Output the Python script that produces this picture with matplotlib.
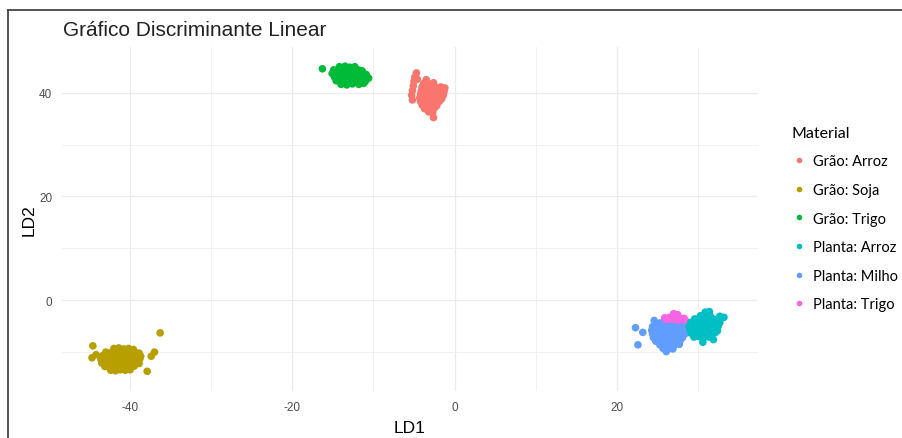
import matplotlib.pyplot as plt
from matplotlib.lines import Line2D
import numpy as np

plt.rcParams["axes.unicode_minus"] = False

# categories and colours (ggplot hue palette)
materials = ["Grão: Arroz", "Grão: Soja", "Grão: Trigo",
             "Planta: Arroz", "Planta: Milho", "Planta: Trigo"]
colors = ["#F8766D", "#B79F00", "#00BA38", "#00BFC4", "#619CFF", "#F564E3"]

# LD1, LD2 scores (approximate)
grao_arroz = [
    [-4.7, 43.8], [-4.6, 42.6], [-4.9, 43.0], [-5.0, 42.2], [-5.1, 41.3], [-5.2, 40.4],
    [-5.3, 39.5], [-5.2, 38.6], [-3.5, 42.5],
    [-3.8, 41.8], [-3.2, 41.7], [-2.6, 41.9],
    [-4.0, 41.1], [-3.5, 41.0], [-2.9, 41.2], [-2.3, 41.0], [-1.7, 41.1], [-1.2, 40.9],
    [-4.1, 40.4], [-3.6, 40.3], [-3.0, 40.5], [-2.4, 40.3], [-1.8, 40.5], [-1.3, 40.2],
    [-4.2, 39.7], [-3.7, 39.6], [-3.1, 39.8], [-2.5, 39.6], [-1.9, 39.7], [-1.4, 39.5],
    [-4.3, 39.0], [-3.8, 38.9], [-3.2, 39.1], [-2.6, 38.9], [-2.0, 39.0], [-1.6, 38.8],
    [-4.2, 38.3], [-3.6, 38.2], [-3.0, 38.4], [-2.4, 38.2], [-1.9, 38.3],
    [-4.0, 37.6], [-3.4, 37.5], [-2.8, 37.7], [-2.2, 37.5],
    [-3.7, 36.9], [-3.1, 36.8], [-2.5, 37.0],
    [-3.2, 36.3], [-2.7, 36.2], [-2.6, 35.2],
]
grao_soja = [
    [-42.0, -9.3], [-41.4, -9.2], [-40.8, -9.4], [-40.2, -9.3], [-39.6, -9.5],
    [-43.0, -10.0], [-42.4, -10.1], [-41.8, -9.9], [-41.2, -10.0], [-40.6, -10.1],
    [-40.0, -9.9], [-39.4, -10.0], [-38.9, -10.2],
    [-43.4, -10.7], [-42.8, -10.6], [-42.2, -10.8], [-41.6, -10.7], [-41.0, -10.6],
    [-40.4, -10.8], [-39.8, -10.7], [-39.2, -10.6], [-38.7, -10.8],
    [-43.6, -11.4], [-43.0, -11.5], [-42.4, -11.3], [-41.8, -11.4], [-41.2, -11.5],
    [-40.6, -11.3], [-40.0, -11.4], [-39.4, -11.5], [-38.8, -11.3],
    [-43.5, -12.1], [-42.9, -12.0], [-42.3, -12.2], [-41.7, -12.1], [-41.1, -12.0],
    [-40.5, -12.2], [-39.9, -12.1], [-39.3, -12.0], [-38.9, -12.2],
    [-43.1, -12.8], [-42.5, -12.9], [-41.9, -12.7], [-41.3, -12.8], [-40.7, -12.9],
    [-40.1, -12.8], [-39.5, -12.7],
    [-42.4, -13.5], [-41.8, -13.6], [-41.2, -13.4], [-40.6, -13.5], [-40.0, -13.4],
    [-44.6, -8.8], [-44.7, -11.1], [-44.2, -10.5], [-36.3, -6.3],
    [-37.0, -10.0], [-37.4, -10.8], [-37.9, -13.7],
]
grao_trigo = [
    [-16.3, 44.6],
    [-14.2, 45.0], [-13.5, 45.1], [-12.9, 44.9], [-12.3, 45.0],
    [-14.9, 44.4], [-14.3, 44.3], [-13.7, 44.5], [-13.1, 44.4], [-12.5, 44.3],
    [-11.9, 44.4], [-11.4, 44.2],
    [-15.1, 43.7], [-14.5, 43.6], [-13.9, 43.8], [-13.3, 43.7], [-12.7, 43.6],
    [-12.1, 43.8], [-11.5, 43.7], [-10.9, 43.5],
    [-14.8, 43.0], [-14.2, 43.1], [-13.6, 42.9], [-13.0, 43.0], [-12.4, 43.1],
    [-11.8, 42.9], [-11.2, 43.0], [-10.6, 42.8],
    [-14.6, 42.3], [-14.0, 42.2], [-13.4, 42.4], [-12.8, 42.3], [-12.2, 42.2],
    [-11.6, 42.4], [-11.0, 42.2],
    [-14.0, 41.6], [-13.3, 41.5], [-12.6, 41.7], [-11.8, 41.6], [-11.2, 41.8],
]
planta_arroz = [
    [30.9, -2.3], [31.4, -2.2],
    [30.3, -3.0], [30.9, -2.9], [31.5, -3.0], [32.7, -3.1],
    [29.6, -3.6], [30.2, -3.7], [30.8, -3.5], [31.4, -3.6], [32.0, -3.7], [32.6, -3.5], [33.2, -3.3],
    [29.1, -4.3], [29.7, -4.2], [30.3, -4.4], [30.9, -4.3], [31.5, -4.2], [32.1, -4.4], [32.7, -4.3],
    [28.9, -5.0], [29.5, -5.1], [30.1, -4.9], [30.7, -5.0], [31.3, -5.1], [31.9, -4.9], [32.5, -5.0],
    [29.0, -5.7], [29.6, -5.8], [30.2, -5.6], [30.8, -5.7], [31.4, -5.8], [32.0, -5.6], [32.4, -5.9],
    [29.2, -6.4], [29.8, -6.5], [30.4, -6.3], [31.0, -6.4], [31.6, -6.5], [32.1, -6.3],
    [29.5, -7.1], [30.1, -7.0], [30.7, -7.2], [31.3, -7.1],
    [30.6, -8.1], [31.9, -7.6],
]
planta_milho = [
    [24.6, -3.9], [25.3, -4.4],
    [24.4, -5.1], [25.0, -5.0], [25.6, -5.2], [26.2, -5.1], [26.8, -5.0], [27.4, -5.2], [28.0, -5.1],
    [24.3, -5.8], [24.9, -5.9], [25.5, -5.7], [26.1, -5.8], [26.7, -5.9], [27.3, -5.7], [27.9, -5.8], [28.4, -5.9],
    [24.4, -6.5], [25.0, -6.4], [25.6, -6.6], [26.2, -6.5], [26.8, -6.4], [27.4, -6.6], [28.0, -6.5], [28.5, -6.4],
    [24.5, -7.2], [25.1, -7.3], [25.7, -7.1], [26.3, -7.2], [26.9, -7.3], [27.5, -7.1], [28.1, -7.2],
    [24.8, -7.9], [25.4, -8.0], [26.0, -7.8], [26.6, -7.9], [27.2, -8.0], [27.8, -7.8],
    [25.3, -8.6], [25.9, -8.7], [26.5, -8.5], [27.1, -8.6], [27.7, -8.5],
    [25.7, -9.3], [26.3, -9.2], [26.9, -9.4], [26.1, -9.9],
    [22.3, -5.3], [23.2, -6.2], [22.6, -8.6],
]
planta_trigo = [
    [27.0, -2.6], [27.5, -2.8],
    [25.9, -3.4], [26.5, -3.3], [27.1, -3.5], [27.7, -3.4], [28.3, -3.5],
    [25.8, -4.1], [26.4, -4.0], [27.0, -4.2], [27.6, -4.1], [28.2, -4.0], [28.7, -4.2],
    [26.2, -4.8], [26.8, -4.7], [27.4, -4.9], [28.0, -4.8], [28.6, -4.7],
    [26.5, -5.5], [27.2, -5.4], [27.9, -5.6],
]

groups = [grao_arroz, grao_soja, grao_trigo, planta_arroz, planta_milho, planta_trigo]
draw_order = [0, 1, 2, 5, 4, 3]

fig = plt.figure(figsize=(9.03, 4.39), dpi=100)
ax = fig.add_axes([62 / 903, 1 - 392 / 439, (758 - 62) / 903, (392 - 48) / 439])

for i in draw_order:
    pts = np.array(groups[i])
    ax.scatter(pts[:, 0], pts[:, 1], s=30, color=colors[i], edgecolors="none", zorder=3)

ax.set_xlim(-48.4, 37.4)
ax.set_ylim(-17.5, 48.8)
ax.set_xticks([-40, -20, 0, 20])
ax.set_xticks([-30, -10, 10, 30], minor=True)
ax.set_yticks([0, 20, 40])
ax.set_yticks([-10, 10, 30], minor=True)
ax.grid(which="major", color="#EBEBEB", linewidth=0.9)
ax.grid(which="minor", color="#F0F0F0", linewidth=0.7)
ax.set_axisbelow(True)
for s in ax.spines.values():
    s.set_visible(False)
ax.tick_params(which="both", length=0, labelsize=8.5, labelcolor="#4D4D4D", pad=7)
for lab in ax.get_xticklabels() + ax.get_yticklabels():
    lab.set_family("Liberation Sans")

ax.set_xlabel("LD1", fontsize=12.5, family="Liberation Sans", labelpad=5)
ax.set_ylabel("LD2", fontsize=12.5, family="Liberation Sans", labelpad=2)

fig.text(63 / 903, 1 - 31 / 439, "Gráfico Discriminante Linear", fontsize=15,
         family="Liberation Sans", color="#222222", va="center", ha="left")

handles = [Line2D([], [], marker="o", linestyle="none", markersize=4,
                  markerfacecolor=c, markeredgecolor="none") for c in colors]
leg = fig.legend(handles, materials, loc="upper left", bbox_to_anchor=(786 / 903, 1 - 121 / 439),
                 frameon=False, title="Material", alignment="left",
                 prop={"family": "Lato", "size": 10.5}, labelspacing=1.0,
                 handletextpad=0.45, handlelength=1.0, borderaxespad=0)
leg.get_title().set_fontsize(11.5)
leg.get_title().set_family("Lato")

# screenshot frame
fig.add_artist(Line2D([8 / 903, 8 / 903], [0, 1 - 11 / 439], color="#444444", lw=1.3))
fig.add_artist(Line2D([8 / 903, 1], [1 - 11 / 439, 1 - 11 / 439], color="#444444", lw=1.3))

fig.savefig("out.png", dpi=100)
